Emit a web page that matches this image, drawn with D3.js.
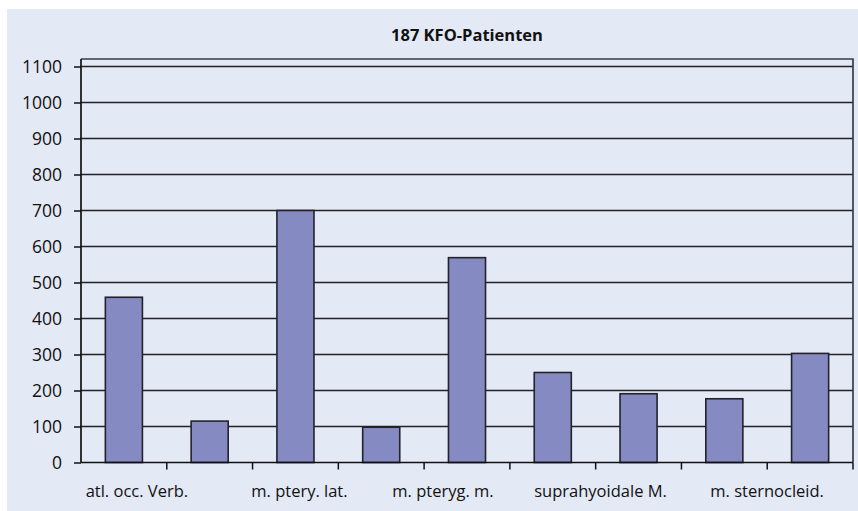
<!DOCTYPE html>
<html>
<head>
<meta charset="utf-8">
<script src="https://cdn.jsdelivr.net/npm/d3@7"></script>
<style>
  body { margin: 0; background: #fff; }
  svg { display: block; font-family: 'Open Sans', sans-serif; }
</style>
</head>
<body>
<div id="chart"></div>
<script>
// data
const title = '187 KFO-Patienten'
const categories = ['atl. occ. Verb.', '', 'm. ptery. lat.', '', 'm. pteryg. m.', '', 'suprahyoidale M.', '', 'm. sternocleid.']
const values = [459, 115, 700, 98, 569, 250, 191, 177, 303]
const yTicks = [0, 100, 200, 300, 400, 500, 600, 700, 800, 900, 1000, 1100]

const width = 858
const height = 511
const plot = { left: 81, right: 853, top: 59, bottom: 462.5 }
// the labels in the picture sit a bit off their bar centres
const labelNudge = [13, 0, 4, 0, -24, 0, -38, 0, -43]

const svg = d3.select('#chart').append('svg')
  .attr('width', width)
  .attr('height', height)

svg.append('rect')
  .attr('x', 7).attr('y', 9)
  .attr('width', width - 7).attr('height', height - 9)
  .attr('fill', '#e3e9f5')

const x = d3.scaleBand()
  .domain(d3.range(categories.length))
  .range([plot.left, plot.right])
  .paddingInner(0.568)
  .paddingOuter(0.284)

const y = d3.scaleLinear()
  .domain([0, 1100])
  .range([plot.bottom, 66.5])

// grid lines
svg.append('g')
  .selectAll('line')
  .data(yTicks.filter(d => d > 0))
  .enter().append('line')
  .attr('x1', plot.left).attr('x2', plot.right)
  .attr('y1', d => y(d)).attr('y2', d => y(d))
  .attr('stroke', '#222228')
  .attr('stroke-width', 1.6)

// plot frame (top and right)
svg.append('path')
  .attr('d', `M${plot.left},${plot.top}H${plot.right}V${plot.bottom}`)
  .attr('fill', 'none')
  .attr('stroke', '#3a3d48')
  .attr('stroke-width', 1.7)

// bars
svg.append('g')
  .selectAll('rect')
  .data(values)
  .enter().append('rect')
  .attr('x', (d, i) => x(i))
  .attr('y', d => y(d))
  .attr('width', x.bandwidth())
  .attr('height', d => y(0) - y(d))
  .attr('fill', '#868ac2')
  .attr('stroke', '#22222c')
  .attr('stroke-width', 1.6)

// y axis
const yAxis = svg.append('g')
  .attr('transform', `translate(${plot.left},0)`)
  .call(d3.axisLeft(y).tickValues(yTicks).tickSize(7).tickPadding(12).tickFormat(d3.format('d')))
yAxis.select('.domain')
  .attr('d', `M0,${plot.top}V${plot.bottom}`)
  .attr('stroke', '#111')
  .attr('stroke-width', 1.7)
yAxis.selectAll('.tick line').attr('stroke', '#111').attr('stroke-width', 1.5)
yAxis.selectAll('.tick text')
  .attr('font-size', 17.5)
  .attr('font-family', "'Open Sans', sans-serif")
  .attr('fill', '#111')

// x axis: ticks at category boundaries
const step = x.step()
const xAxis = svg.append('g')
  .attr('transform', `translate(0,${plot.bottom})`)
xAxis.append('line')
  .attr('x1', plot.left).attr('x2', plot.right)
  .attr('stroke', '#111').attr('stroke-width', 1.7)
xAxis.selectAll('line.tick')
  .data(d3.range(1, categories.length + 1))
  .enter().append('line')
  .attr('class', 'tick')
  .attr('x1', i => plot.left + i * step).attr('x2', i => plot.left + i * step)
  .attr('y1', 0).attr('y2', 7)
  .attr('stroke', '#111').attr('stroke-width', 1.5)
xAxis.selectAll('text')
  .data(categories)
  .enter().append('text')
  .attr('x', (d, i) => x(i) + x.bandwidth() / 2 + labelNudge[i])
  .attr('y', 34.5)
  .attr('text-anchor', 'middle')
  .attr('font-size', 16.5)
  .attr('fill', '#111')
  .text(d => d)

svg.append('text')
  .attr('x', (plot.left + plot.right) / 2)
  .attr('y', 41)
  .attr('text-anchor', 'middle')
  .attr('font-size', 16.5)
  .attr('font-weight', 'bold')
  .attr('fill', '#111')
  .text(title)
</script>
</body>
</html>
